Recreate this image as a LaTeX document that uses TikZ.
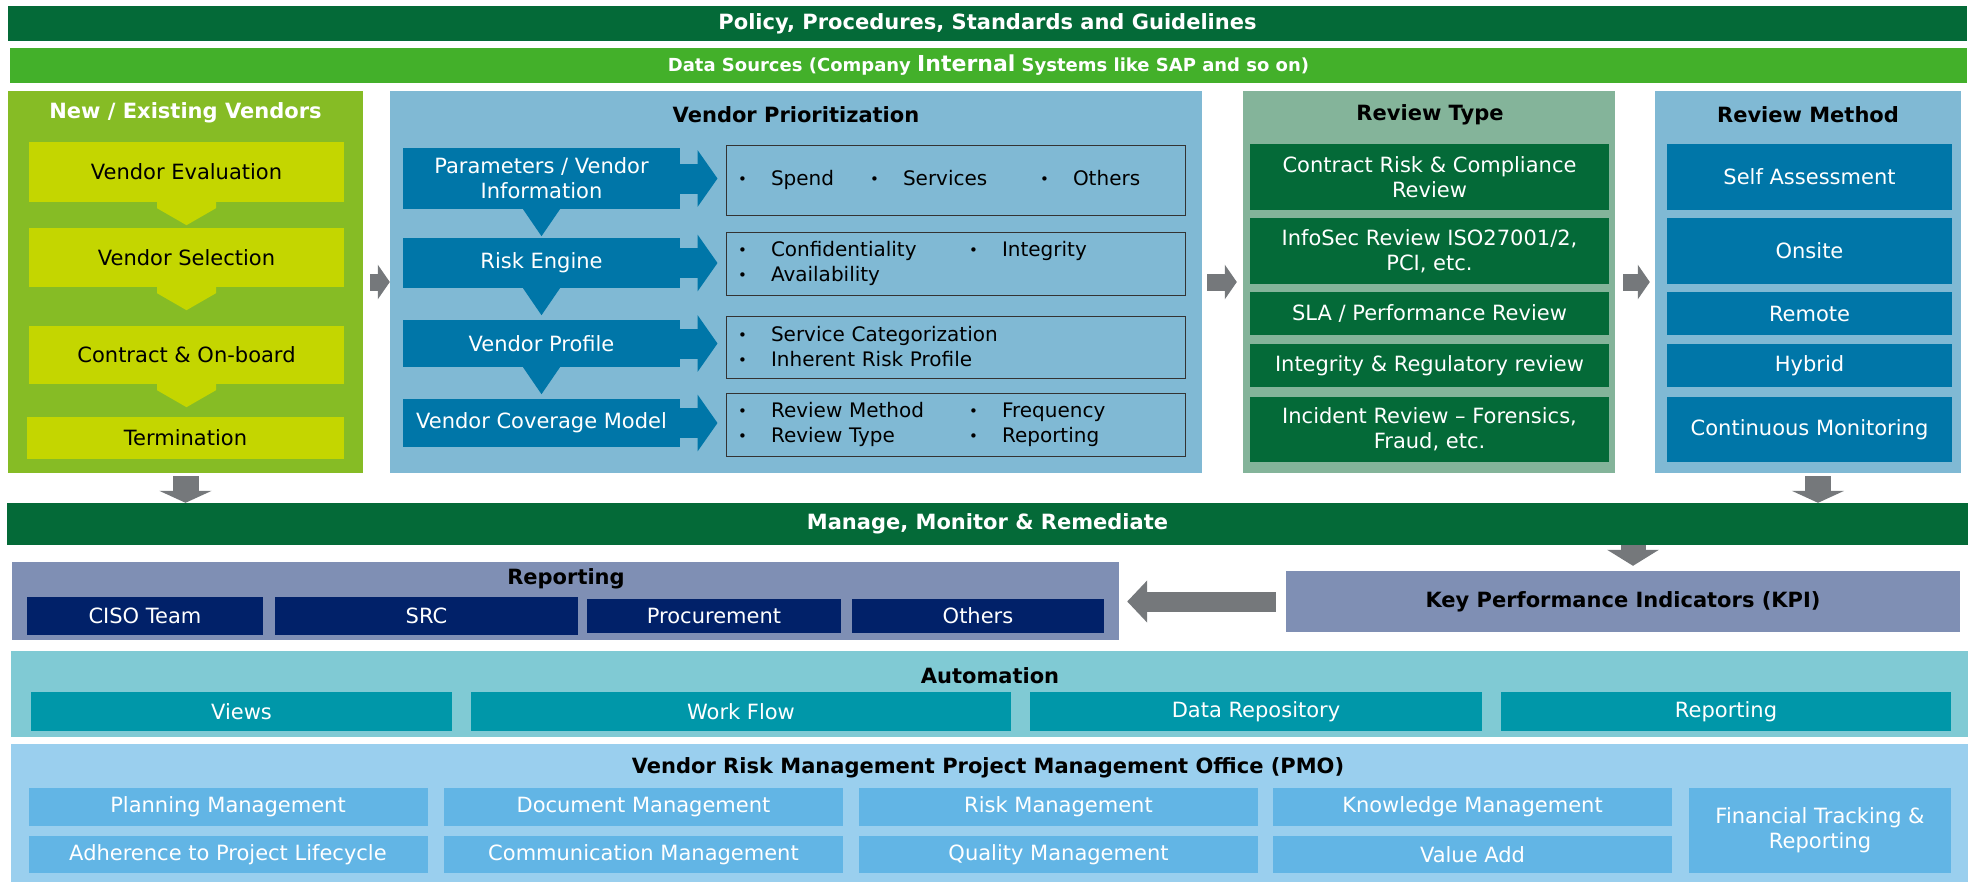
\documentclass[tikz,border=0pt]{standalone}
\usepackage{fontspec}
\setmainfont{DejaVu Sans}
\usetikzlibrary{arrows.meta,calc}
\definecolor{dkgreen}{RGB}{4,106,56}
\definecolor{datagreen}{RGB}{67,176,42}
\definecolor{vendgreen}{RGB}{134,188,37}
\definecolor{limebox}{RGB}{196,214,0}
\definecolor{panelblue}{RGB}{128,185,212}
\definecolor{boxblue}{RGB}{0,118,168}
\definecolor{rtgreen}{RGB}{132,180,154}
\definecolor{arrgray}{RGB}{117,120,123}
\definecolor{slate}{RGB}{127,143,180}
\definecolor{navybox}{RGB}{1,33,105}
\definecolor{autoteal}{RGB}{128,202,212}
\definecolor{tealbox}{RGB}{0,151,169}
\definecolor{pmopanel}{RGB}{154,207,238}
\definecolor{pmobox}{RGB}{98,181,229}
\newcommand\itm[2]{\makebox[33pt][l]{\raisebox{1.5pt}{\fontsize{15}{15}\selectfont\textbullet}}\makebox[#1pt][l]{#2}}
\begin{document}
\begin{tikzpicture}[x=1pt,y=-1pt,
    wh/.style 2 args={minimum width=#1pt,minimum height=#2pt},
    box/.style={inner sep=0pt,align=center,font=\fontsize{21}{25}\selectfont},
    bar/.style={box,fill=dkgreen,text=white,font=\bfseries\fontsize{21}{25}\selectfont},
    ttl/.style={inner sep=0pt,font=\bfseries\fontsize{21}{25}\selectfont},
    lst/.style={draw=black!80,line width=1pt,inner xsep=12pt,inner ysep=0pt,
      text width=435pt,align=left,font=\fontsize{20}{25}\selectfont},
    grayarr/.style={draw=arrgray,line width=17pt,-{Triangle[width=34pt,length=12pt]}},
    downarr/.style={draw=arrgray,line width=26pt,-{Triangle[width=52pt,length=12pt]}},
    bluearr/.style={draw=boxblue,line width=30pt,-{Triangle[width=56pt,length=20pt]}}]
  \fill[white] (0,0) rectangle (1970,883);
  \useasboundingbox (0,0) rectangle (1970,883);
  % top bars
  \node[bar,wh={1959}{35}] (pol) at (987.5,23.5) {Policy, Procedures, Standards and Guidelines};
  \node[bar,fill=datagreen,wh={1957}{35},font=\bfseries\fontsize{18}{20}\selectfont] (dat) at (988.5,65.5)
    {Data Sources (Company {\fontsize{22}{24}\selectfont Internal} Systems like SAP and so on)};
  % new / existing vendors
  \node[box,fill=vendgreen,wh={355}{382}] (vend) at (185.5,282) {};
  \node[ttl,text=white] (vendt) at (185.5,113) {New / Existing Vendors};
  \node[box,fill=limebox,wh={315}{60}] (eval) at (186.5,172) {Vendor Evaluation};
  \node[box,fill=limebox,wh={315}{59}] (sel) at (186.5,257.5) {Vendor Selection};
  \node[box,fill=limebox,wh={315}{58}] (con) at (186.5,355) {Contract \& On-board};
  \node[box,fill=limebox,wh={317}{42}] (term) at (185.5,438) {Termination};
  \foreach \n in {eval,sel,con}
    \fill[limebox] ([xshift=-29.5pt]\n.south) -- ++(0,6) -- ++(29.5,17) -- ++(29.5,-17) -- ++(0,-6) -- cycle;
  % vendor prioritization
  \node[box,fill=panelblue,wh={812}{382}] (prio) at (796,282) {};
  \node[ttl] (priot) at (796,115) {Vendor Prioritization};
  \node[box,fill=boxblue,text=white,wh={277}{61}] (par) at (541.5,178.5) {Parameters / Vendor\\Information};
  \node[box,fill=boxblue,text=white,wh={277}{50}] (risk) at (541.5,263) {Risk Engine};
  \node[box,fill=boxblue,text=white,wh={277}{47}] (prof) at (541.5,343.5) {Vendor Profile};
  \node[box,fill=boxblue,text=white,wh={277}{48}] (cov) at (541.5,423) {Vendor Coverage Model};
  \foreach \n in {par,risk,prof}
    \fill[boxblue] ([xshift=-18.5pt]\n.south) -- ++(18.5,27) -- ++(18.5,-27) -- cycle;
  \node[lst,wh={459}{70}] (l1) at (955.5,180) {\itm{99}{Spend}\itm{137}{Services}\itm{0}{Others}};
  \node[lst,wh={459}{63}] (l2) at (955.5,263.5) {\itm{198}{Confidentiality}\itm{0}{Integrity}\\\itm{0}{Availability}};
  \node[lst,wh={459}{62}] (l3) at (955.5,347) {\itm{0}{Service Categorization}\\\itm{0}{Inherent Risk Profile}};
  \node[lst,wh={459}{63}] (l4) at (955.5,424.5) {\itm{198}{Review Method}\itm{0}{Frequency}\\\itm{198}{Review Type}\itm{0}{Reporting}};
  \foreach \bx/\lx in {par/l1,risk/l2,prof/l3,cov/l4}
    \draw[bluearr] (\bx.east) -- ($(\bx.east -| \lx.west)+(-8,0)$);
  % review type
  \node[box,fill=rtgreen,wh={372}{382}] (rt) at (1429,282) {};
  \node[ttl] (rtt) at (1430,115) {Review Type};
  \node[box,fill=dkgreen,text=white,wh={359}{66}] (rt1) at (1429.5,177) {Contract Risk \& Compliance\\Review};
  \node[box,fill=dkgreen,text=white,wh={359}{66}] (rt2) at (1429.5,251) {InfoSec Review ISO27001/2,\\PCI, etc.};
  \node[box,fill=dkgreen,text=white,wh={359}{43}] (rt3) at (1429.5,313.5) {SLA / Performance Review};
  \node[box,fill=dkgreen,text=white,wh={359}{43}] (rt4) at (1429.5,365.5) {Integrity \& Regulatory review};
  \node[box,fill=dkgreen,text=white,wh={359}{65}] (rt5) at (1429.5,429.5) {Incident Review -- Forensics,\\Fraud, etc.};
  % review method
  \node[box,fill=panelblue,wh={306}{382}] (rm) at (1808,282) {};
  \node[ttl] (rmt) at (1808,115) {Review Method};
  \node[box,fill=boxblue,text=white,wh={285}{66}] (rm1) at (1809.5,177) {Self Assessment};
  \node[box,fill=boxblue,text=white,wh={285}{66}] (rm2) at (1809.5,251) {Onsite};
  \node[box,fill=boxblue,text=white,wh={285}{43}] (rm3) at (1809.5,313.5) {Remote};
  \node[box,fill=boxblue,text=white,wh={285}{43}] (rm4) at (1809.5,365.5) {Hybrid};
  \node[box,fill=boxblue,text=white,wh={285}{65}] (rm5) at (1809.5,429.5) {Continuous Monitoring};
  \draw[grayarr] ([xshift=7pt]vend.east) -- (prio.west);
  \draw[grayarr] ([xshift=5pt]prio.east) -- ([xshift=-6pt]rt.west);
  \draw[grayarr] ([xshift=8pt]rt.east) -- ([xshift=-5pt]rm.west);
  % manage, monitor & remediate
  \node[bar,wh={1961}{42}] (man) at (987.5,524) {Manage, Monitor \& Remediate};
  \draw[downarr] ([yshift=-3pt]vend.south) -- (vend.south |- man.north);
  \draw[downarr] ($(rm.south)+(10,3)$) -- ($(rm.south |- man.north)+(10,0)$);
  % reporting and kpi
  \node[box,fill=slate,wh={1107}{78}] (rep) at (565.5,601) {};
  \node[ttl] (rept) at (566,579) {Reporting};
  \node[box,fill=navybox,text=white,wh={236}{38}] (ciso) at (145,616) {CISO Team};
  \node[box,fill=navybox,text=white,wh={303}{38}] (src) at (426.5,616) {SRC};
  \node[box,fill=navybox,text=white,wh={254}{34}] (proc) at (714,616) {Procurement};
  \node[box,fill=navybox,text=white,wh={252}{34}] (oth) at (978,616) {Others};
  \node[box,fill=slate,wh={674}{61},font=\bfseries\fontsize{21}{25}\selectfont] (kpi) at (1623,601.5) {Key Performance Indicators (KPI)};
  \draw[draw=arrgray,line width=25pt,-{Triangle[width=51pt,length=16pt]}]
    ($(man.south -| kpi.north)+(10,0)$) -- ($(kpi.north)+(10,-5)$);
  \draw[draw=arrgray,line width=20pt,-{Triangle[width=41pt,length=20pt]}]
    ([xshift=-10pt]kpi.west) -- ($(kpi.west -| rep.east)+(8,0)$);
  % automation
  \node[box,fill=autoteal,wh={1957}{86}] (auto) at (989.5,694) {};
  \node[ttl] (autot) at (990,676) {Automation};
  \foreach \x/\w/\t [count=\i] in {241.5/421/Views,741/540/Work Flow,1256/452/Data Repository,1726/450/Reporting}
    \node[box,fill=tealbox,text=white,wh={\w}{39}] (a\i) at (\x,711.5) {\t};
  % pmo
  \node[box,fill=pmopanel,wh={1957}{138}] (pmo) at (989.5,813) {};
  \node[ttl] (pmot) at (988,768) {Vendor Risk Management Project Management Office (PMO)};
  \foreach \x/\t [count=\i] in {228/Planning Management,643.5/Document Management,1058.5/Risk Management,1472.5/Knowledge Management}
    \node[box,fill=pmobox,text=white,wh={399}{38}] (p\i) at (\x,807) {\t};
  \foreach \x/\t [count=\i] in {228/Adherence to Project Lifecycle,643.5/Communication Management,1058.5/Quality Management,1472.5/Value Add}
    \node[box,fill=pmobox,text=white,wh={399}{37}] (q\i) at (\x,854.5) {\t};
  \node[box,fill=pmobox,text=white,wh={262}{85}] (fin) at (1820,830.5) {Financial Tracking \&\\Reporting};
\end{tikzpicture}
\end{document}
